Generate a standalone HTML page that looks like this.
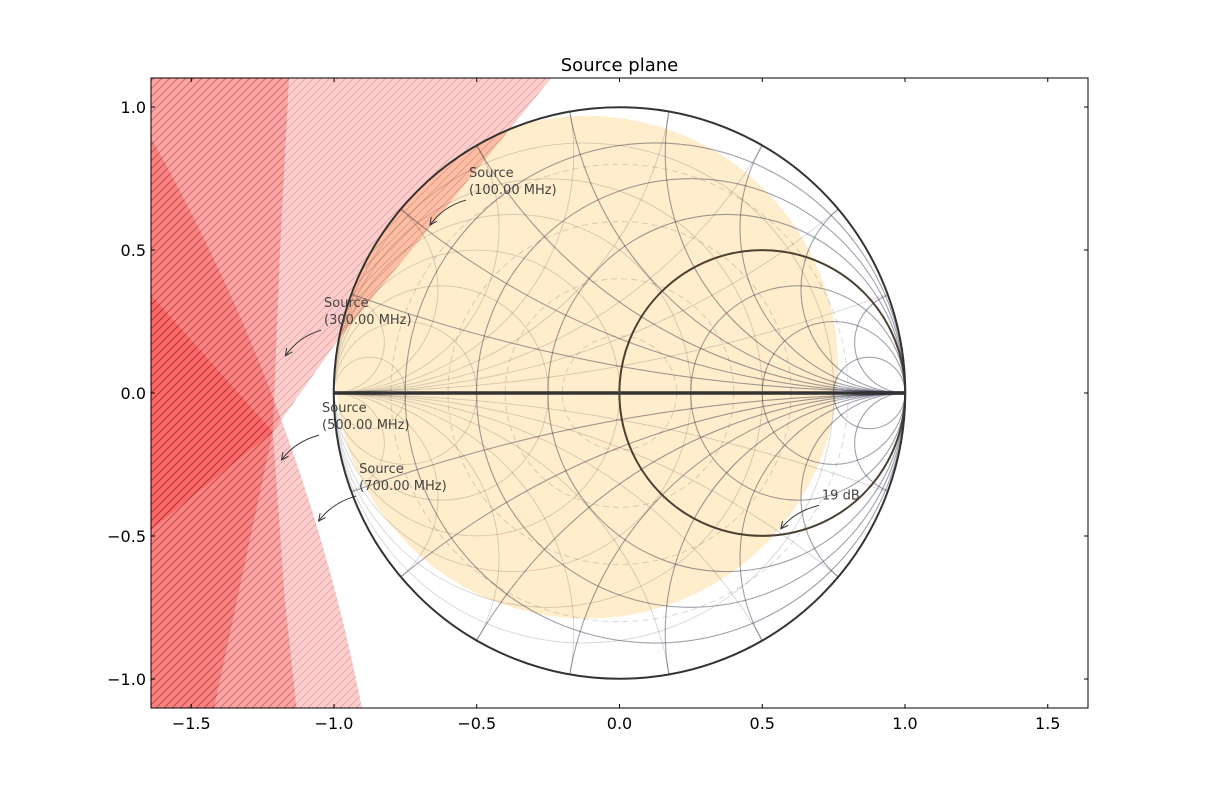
<!DOCTYPE html>
<html><head><meta charset="utf-8"><style>
html,body{margin:0;padding:0;background:#fff;overflow:hidden;width:1208px;height:787px;}
svg{display:block;}
svg text{font-family:"DejaVu Sans","Liberation Sans",sans-serif;}
</style></head><body>
<svg id="chart" width="1208" height="787" viewBox="0 0 1208 787" xmlns="http://www.w3.org/2000/svg">
<defs>
<pattern id="hatch" patternUnits="userSpaceOnUse" width="8" height="8">
<path d="M-2,2 L2,-2 M0,8 L8,0 M6,10 L10,6" stroke="rgba(0,0,0,0.16)" stroke-width="0.9"/>
</pattern>
<clipPath id="plotClip"><rect x="151" y="78" width="937" height="630"/></clipPath>
<clipPath id="unitClip"><circle cx="619.5" cy="393" r="285.75"/></clipPath>
</defs>
<rect x="151" y="78" width="937" height="630" fill="#fff"/>
<g id="orangeLayer" clip-path="url(#unitClip)"></g>
<g id="redLayer" clip-path="url(#plotClip)"></g>
<g id="gridLayer" clip-path="url(#unitClip)"></g>
<g id="topLayer" clip-path="url(#plotClip)"></g>
<g id="annot"></g>
<rect x="151" y="78" width="937" height="630" fill="none" stroke="#000" stroke-width="1"/>
<g id="axes"></g>
<text x="619.5" y="71" font-size="18" text-anchor="middle">Source plane</text>
</svg>
<script>
// ---- data ----
const xTicks = [-1.5,-1.0,-0.5,0.0,0.5,1.0,1.5];
const yTicks = [-1.0,-0.5,0.0,0.5,1.0];
const gammaEdges = [-0.75,-0.5,-0.25,0,0.25,0.5,0.75];
const arcAngles = [20,40,60,80,100,120,140,160];
const dashedRadii = [0.2,0.4,0.6,0.8];
const gainCircle = [-0.115,0.09,0.88];
const gainLabelCircle = [0.5,0.0,0.5];
const stab100Pts = [[-0.215,1.13],[-0.986,0.185],[-1.214,-0.136],[-1.641,-0.479]];
const stab300Pts = [[-1.156,1.13],[-1.189,0.5],[-1.214,-0.136],[-1.172,-0.724],[-1.128,-1.13]];
const stab500Circ3 = [[-1.641,0.892],[-1.056,-0.479],[-0.902,-1.101]];
const stab700Pts = [[-1.70,0.40],[-1.641,0.343],[-1.214,-0.136],[-1.420,-1.101],[-1.428,-1.13]];
const annLabels = [
 {t1:"Source",t2:"(100.00 MHz)",tx:-0.527,ty:0.755,ax:-0.664,ay:0.587},
 {t1:"Source",t2:"(300.00 MHz)",tx:-1.035,ty:0.300,ax:-1.170,ay:0.130},
 {t1:"Source",t2:"(500.00 MHz)",tx:-1.042,ty:-0.067,ax:-1.184,ay:-0.234},
 {t1:"Source",t2:"(700.00 MHz)",tx:-0.912,ty:-0.280,ax:-1.054,ay:-0.448},
 {t1:"19 dB",t2:"",tx:0.709,ty:-0.372,ax:0.565,ay:-0.475}
];
// ---- axes ----
const sx = x => 619.5 + x*285.5;
const sy = y => 393 - y*286;
const sr = r => r*285.75;
const NS="http://www.w3.org/2000/svg";
function mk(tag, parent, attrs){const e=document.createElementNS(NS,tag);for(const k in attrs)e.setAttribute(k,attrs[k]);parent.appendChild(e);return e;}
const fmt = v => (v<0?"\u2212":"")+Math.abs(v).toFixed(1);

const og=document.getElementById('orangeLayer');
let e=mk('circle',og,{cx:sx(gainCircle[0]),cy:sy(gainCircle[1]),r:sr(gainCircle[2]),fill:"rgba(255,165,0,0.2)"});



const rg=document.getElementById('redLayer');
function regionPath(d,name){
 const p1=mk('path',rg,{d:d,fill:"rgba(255,0,0,0.2)"});
 
 
 const p2=mk('path',rg,{d:d,fill:"url(#hatch)"});
 
 
}
function region(pts,name){
 const first=pts[0], last=pts[pts.length-1];
 const all=pts.concat([[-2.5,last[1]],[-2.5,first[1]]]);
 regionPath('M'+all.map(p=>sx(p[0])+','+sy(p[1])).join(' L')+' Z',name);
}
function circ3(p){
 const [x1,y1]=[sx(p[0][0]),sy(p[0][1])],[x2,y2]=[sx(p[1][0]),sy(p[1][1])],[x3,y3]=[sx(p[2][0]),sy(p[2][1])];
 const d=2*(x1*(y2-y3)+x2*(y3-y1)+x3*(y1-y2));
 const ux=((x1*x1+y1*y1)*(y2-y3)+(x2*x2+y2*y2)*(y3-y1)+(x3*x3+y3*y3)*(y1-y2))/d;
 const uy=((x1*x1+y1*y1)*(x3-x2)+(x2*x2+y2*y2)*(x1-x3)+(x3*x3+y3*y3)*(x2-x1))/d;
 return [ux,uy,Math.hypot(x1-ux,y1-uy)];
}
region(stab100Pts,'stability-region-100mhz');
region(stab300Pts,'stability-region-300mhz');
{const [cx,cy,r]=circ3(stab500Circ3);regionPath(`M${cx-r},${cy} a${r},${r} 0 1,0 ${2*r},0 a${r},${r} 0 1,0 ${-2*r},0 Z`,'stability-region-500mhz');}
region(stab700Pts,'stability-region-700mhz');

const gg=document.getElementById('gridLayer');
const cy0=sy(0);
function gc(cx,cy,r,stroke,w,name,dash){const a={cx:sx(cx),cy:sy(cy),r:sr(r),fill:"none",stroke:stroke,"stroke-width":w};if(dash)a["stroke-dasharray"]=dash;const c=mk('circle',gg,a);return c;}
dashedRadii.forEach(r=>gc(0,0,r,"rgba(0,0,0,0.15)",1,'constant-gamma-circle',"6,4"));
gammaEdges.forEach(L=>gc((L-1)/2,0,(1+L)/2,"rgba(0,0,0,0.15)",1,'conductance-circle'));
arcAngles.forEach(a=>{const t=Math.tan(a*Math.PI/360);gc(-1,t,t,"rgba(0,0,0,0.15)",1,'susceptance-arc');gc(-1,-t,t,"rgba(0,0,0,0.15)",1,'susceptance-arc');});
gammaEdges.forEach(L=>{if(L!==0)gc((1+L)/2,0,(1-L)/2,"rgba(30,30,60,0.42)",1.1,'resistance-circle');});
arcAngles.forEach(a=>{const t=Math.tan(a*Math.PI/360);gc(1,t,t,"rgba(30,30,60,0.42)",1.1,'reactance-arc');gc(1,-t,t,"rgba(30,30,60,0.42)",1.1,'reactance-arc');});
e=mk('line',gg,{x1:sx(-1),y1:cy0,x2:sx(1),y2:cy0,stroke:"#333",'stroke-width':3.5});


const tg=document.getElementById('topLayer');
e=mk('circle',tg,{cx:sx(gainLabelCircle[0]),cy:sy(gainLabelCircle[1]),r:sr(gainLabelCircle[2]),fill:"none",stroke:"#4a3f30","stroke-width":2});


e=mk('circle',tg,{cx:sx(0),cy:cy0,r:sr(1),fill:"none",stroke:"#333","stroke-width":2});



const ag=document.getElementById('annot');
annLabels.forEach(l=>{
 const tx=sx(l.tx),ty=sy(l.ty);
 const t=mk('text',ag,{x:tx,y:ty,'font-size':13,fill:"#444"});
 
 
 t.textContent=l.t1;
 if(l.t2){const t2=mk('text',ag,{x:tx,y:ty+17,'font-size':13,fill:"#444"});t2.textContent=l.t2;}
 const sX=tx-3, sY=ty+(l.t2?23:6);
 const exX=sx(l.ax), exY=sy(l.ay);
 const qx=(sX+exX)/2-5, qy=(sY+exY)/2-6;
 const p=mk('path',ag,{d:`M${sX},${sY} Q${qx},${qy} ${exX},${exY}`,fill:"none",stroke:"#333","stroke-width":1});
 
 
 const ang=Math.atan2(exY-qy,exX-qx);
 const h=mk('path',ag,{d:`M${exX-8*Math.cos(ang-0.45)},${exY-8*Math.sin(ang-0.45)} L${exX},${exY} L${exX-8*Math.cos(ang+0.45)},${exY-8*Math.sin(ang+0.45)}`,fill:"none",stroke:"#333","stroke-width":1});
 
 
});

const axg=document.getElementById('axes');
xTicks.forEach(v=>{
 const x=sx(v);
 mk('line',axg,{x1:x,y1:708,x2:x,y2:704,stroke:"#000"});
 mk('line',axg,{x1:x,y1:78,x2:x,y2:82,stroke:"#000"});
 const t=mk('text',axg,{x:x,y:729,'font-size':16,'text-anchor':'middle'});
 
 
 t.textContent=fmt(v);
});
yTicks.forEach(v=>{
 const y=sy(v);
 mk('line',axg,{x1:151,y1:y,x2:155,y2:y,stroke:"#000"});
 mk('line',axg,{x1:1088,y1:y,x2:1084,y2:y,stroke:"#000"});
 const t=mk('text',axg,{x:146,y:y+6,'font-size':16,'text-anchor':'end'});
 
 
 t.textContent=fmt(v);
});
</script>
</body></html>
